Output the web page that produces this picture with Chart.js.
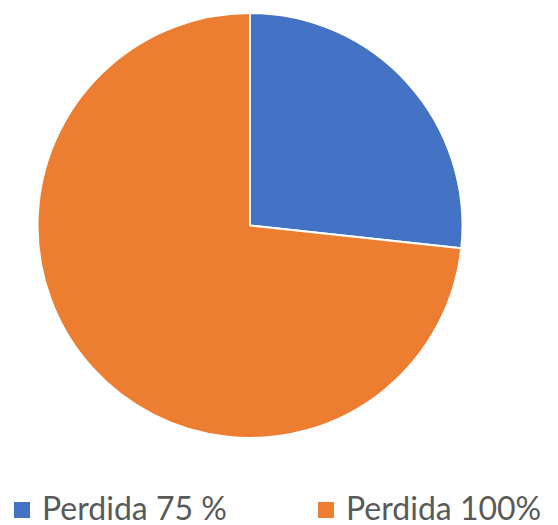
<!DOCTYPE html>
<html>
<head>
<meta charset="utf-8">
<script src="https://cdn.jsdelivr.net/npm/chart.js@4"></script>
<style>
  body { margin: 0; background: #fff; }
  #wrap { position: relative; width: 558px; height: 525px; }
  #box { position: absolute; left: 0; top: 0; width: 500px; height: 440px; }
  .item { position: absolute; top: 490px; font-family: Lato, sans-serif; font-size: 32px; color: #595959; white-space: nowrap; line-height: 36px; }
  .item span.sq { display: inline-block; width: 16px; height: 16px; margin-right: 12px; vertical-align: 2px; }
</style>
</head>
<body>
<div id="wrap">
  <div id="box"><canvas id="canvas"></canvas></div>
  <div id="legend"></div>
</div>
<script>
const labels = ['Perdida 75 %', 'Perdida 100%']
const values = [26.7, 73.3]
const colors = ['#4472C4', '#ED7D31']
const legendLeft = [14, 318]

const data = {
    labels: labels,
    datasets: [
        {
            data: values,
            backgroundColor: colors,
            borderColor: '#ffffff',
            borderWidth: 2,
        }
    ]
}

const config = {
    type: 'pie',
    data: data,
    options: {
        responsive: true,
        maintainAspectRatio: false,
        animation: false,
        layout: { padding: { top: 12, bottom: 1 } },
        plugins: {
            legend: { display: false },
            tooltip: { enabled: false },
        }
    }
}
const canvas = document.getElementById('canvas')
const chart = new Chart(canvas, config)

// legend under the pie, built from the same labels and colours
const legend = document.getElementById('legend')
labels.forEach((lab, i) => {
    const d = document.createElement('div')
    d.className = 'item'
    d.style.left = legendLeft[i] + 'px'
    d.innerHTML = '<span class="sq" style="background:' + colors[i] + '"></span>' + lab
    legend.appendChild(d)
})
</script>
</body>
</html>
